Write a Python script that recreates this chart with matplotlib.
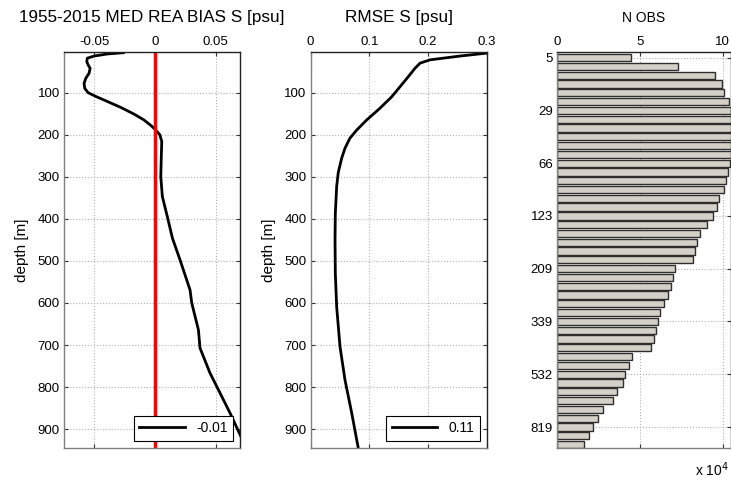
import numpy as np
import matplotlib
matplotlib.use("Agg")
from matplotlib import pyplot as plt

plt.rcParams['font.family'] = ['Liberation Sans', 'DejaVu Sans']

# bias profile (psu) vs depth (m)
bias_depth = [5, 8, 13, 18, 26, 34, 42, 54, 66, 78, 90, 100, 109, 121, 135, 151, 165, 179,
              189, 200, 216, 244, 300, 347, 395, 446, 498, 569, 600, 664, 707, 767, 814, 862,
              913, 945]
bias_val = [-0.0261, -0.0393, -0.0502, -0.0558, -0.0563, -0.0552, -0.0535, -0.0544, -0.0571,
            -0.0585, -0.0579, -0.0552, -0.0488, -0.0393, -0.0283, -0.0173, -0.0091, -0.003,
            0.0006, 0.0039, 0.0055, 0.0052, 0.0047, 0.006, 0.0101, 0.0143, 0.0206, 0.0288,
            0.0302, 0.0357, 0.037, 0.0453, 0.0535, 0.0618, 0.07, 0.075]
bias_mean = "-0.01"

# rmse profile (psu) vs depth (m)
rmse_depth = [6, 13, 22, 30, 42, 62, 86, 110, 137, 165, 189, 208, 232, 256, 290, 323, 387,
              450, 529, 609, 704, 783, 862, 944]
rmse_val = [0.3, 0.2545, 0.2033, 0.1863, 0.1778, 0.1664, 0.1522, 0.138, 0.1181, 0.0954,
            0.0784, 0.067, 0.0585, 0.0528, 0.047, 0.0443, 0.042, 0.0415, 0.042, 0.0443,
            0.050, 0.0585, 0.070, 0.081]
rmse_mean = "0.11"

# number of observations per level (x 10^4)
nobs = [4.47, 7.33, 9.55, 9.98, 10.1, 10.4, 10.47, 10.6, 10.6, 10.6, 10.55, 10.55, 10.45,
        10.34, 10.22, 10.06, 9.8, 9.64, 9.43, 9.03, 8.64, 8.46, 8.34, 8.22, 7.11, 6.98, 6.86,
        6.68, 6.44, 6.19, 6.11, 5.97, 5.85, 5.67, 4.55, 4.35, 4.09, 3.97, 3.60, 3.36, 2.79,
        2.45, 2.15, 1.92, 1.62]
nobs_labels = ['5', '29', '66', '123', '209', '339', '532', '819']


def style_axes(ax):
    ax.tick_params(direction='in', top=True, bottom=True, left=True, right=True,
                   labeltop=True, labelbottom=False, labelsize=9.5, length=3,
                   color='#333333', pad=3)
    for s in ['left', 'bottom']:
        ax.spines[s].set_color('#808080')
    for s in ['top', 'right']:
        ax.spines[s].set_color('#222222')
    for s in ax.spines.values():
        s.set_linewidth(1.0)
    ax.grid(True, linestyle=':', color='#b0b0b0', linewidth=0.8)
    ax.set_axisbelow(True)


fig = plt.figure(figsize=(7.31, 4.84), dpi=100)

# panel 1: bias
ax1 = fig.add_axes([0.0876, 0.075, 0.2408, 0.817])
ax1.plot(bias_val, bias_depth, color='black', lw=2, label=bias_mean, solid_joinstyle='round')
ax1.axvline(0, color='red', lw=2.5)
ax1.set_xlim(-0.075, 0.07)
ax1.set_ylim(944, 4)
ax1.set_xticks([-0.05, 0, 0.05])
ax1.set_xticklabels(['-0.05', '0', '0.05'])
ax1.set_yticks(range(100, 1000, 100))
style_axes(ax1)
ax1.set_ylabel('depth [m]', fontsize=11, labelpad=6)
ax1.set_title('1955-2015 MED REA BIAS S [psu]', fontsize=12.3, pad=22)
leg = ax1.legend(loc='lower right', fontsize=10, fancybox=False, framealpha=1,
                 edgecolor='black', handlelength=3.3, borderaxespad=0.5)
leg.get_frame().set_linewidth(0.8)

# panel 2: rmse
ax2 = fig.add_axes([0.425, 0.075, 0.2408, 0.817])
ax2.plot(rmse_val, rmse_depth, color='black', lw=2, label=rmse_mean, solid_joinstyle='round')
ax2.set_xlim(0, 0.3)
ax2.set_ylim(944, 4)
ax2.set_xticks([0, 0.1, 0.2, 0.3])
ax2.set_xticklabels(['0', '0.1', '0.2', '0.3'])
ax2.set_yticks(range(100, 1000, 100))
style_axes(ax2)
ax2.set_ylabel('depth [m]', fontsize=11, labelpad=6)
ax2.set_title('RMSE S [psu]', fontsize=12.3, pad=22)
leg = ax2.legend(loc='lower right', fontsize=10, fancybox=False, framealpha=1,
                 edgecolor='black', handlelength=3.3, borderaxespad=0.5)
leg.get_frame().set_linewidth(0.8)

# panel 3: number of observations
ax3 = fig.add_axes([0.762, 0.075, 0.238, 0.817])
pos = np.arange(1, len(nobs) + 1)
ax3.barh(pos, nobs, height=0.82, color='#d4d0c8', edgecolor='#2e2e2e', linewidth=1.0)
ax3.set_xlim(0, 10.5)
ax3.set_ylim(45.35, 0.4)
ax3.set_xticks([0, 5, 10])
ax3.set_yticks(pos[::6])
ax3.set_yticklabels(nobs_labels)
style_axes(ax3)
ax3.set_title('N OBS', fontsize=10, pad=22)
fig.text(0.997, 0.017, r'x 10$^4$', fontsize=10, ha='right', va='baseline')

fig.savefig('out.png', dpi=100)
